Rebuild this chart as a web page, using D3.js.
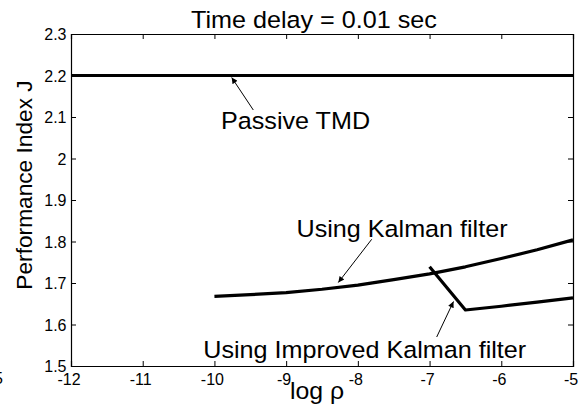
<!DOCTYPE html>
<html>
<head>
<meta charset="utf-8">
<script src="https://cdn.jsdelivr.net/npm/d3@7"></script>
<style>
  html, body { margin: 0; padding: 0; background: #fff; }
  svg text { font-family: "Liberation Sans", Arial, Helvetica, sans-serif; fill: #000; }
</style>
</head>
<body>
<svg id="chart" width="580" height="410"></svg>
<script>
// ── Data ─────────────────────────────────────────────────────────────────────
const xTicks = [-12, -11, -10, -9, -8, -7, -6, -5];
const yTicks = [1.5, 1.6, 1.7, 1.8, 1.9, 2, 2.1, 2.2, 2.3];

const passiveX = [-12, -5];
const passiveJ = [2.2, 2.2];

const kalmanX = [-10, -9.5, -9, -8.5, -8, -7.5, -7, -6.5, -6, -5.5, -5];
const kalmanJ = [1.668, 1.672, 1.677, 1.685, 1.695, 1.708, 1.722, 1.739, 1.759, 1.780, 1.804];

const improvedX = [-7, -6.5, -6, -5.5, -5];
const improvedJ = [1.739, 1.635, 1.644, 1.654, 1.664];

// ── Layout ───────────────────────────────────────────────────────────────────
const W = 580, H = 410;
const margin = { top: 34, right: 7, bottom: 44, left: 71 };
const svg = d3.select('#chart');

const x = d3.scaleLinear().domain([-12, -5]).range([margin.left, W - margin.right]);
const y = d3.scaleLinear().domain([1.5, 2.3]).range([H - margin.bottom, margin.top]);

// text in the source is a little wider than tall
function stretchText(str, px, py, size, anchor) {
  return svg.append('text')
    .attr('transform', `translate(${px},${py}) scale(1.08,1)`)
    .attr('font-size', size)
    .attr('text-anchor', anchor || 'start')
    .text(str);
}

// ── Axes (inward ticks, full box) ────────────────────────────────────────────
const fmt = d => String(d).replace('\u2212', '-');

const gx = svg.append('g')
  .attr('transform', `translate(0,${H - margin.bottom})`)
  .call(d3.axisBottom(x).tickValues(xTicks).tickSize(-5).tickFormat(fmt));
gx.selectAll('text').attr('dy', null).attr('y', 18.5).attr('x', -2.5);

svg.append('g')
  .attr('transform', `translate(0,${margin.top})`)
  .call(d3.axisTop(x).tickValues(xTicks).tickSize(-5).tickFormat(''));

const gy = svg.append('g')
  .attr('transform', `translate(${margin.left},0)`)
  .call(d3.axisLeft(y).tickValues(yTicks).tickSize(-5).tickFormat(d => d));
gy.selectAll('text').attr('x', -4.5).attr('dy', '0.36em');

svg.append('g')
  .attr('transform', `translate(${W - margin.right},0)`)
  .call(d3.axisRight(y).tickValues(yTicks).tickSize(-5).tickFormat(''));

svg.selectAll('.domain').attr('stroke', '#000').attr('stroke-width', 1.2);
svg.selectAll('.tick line').attr('stroke', '#000').attr('stroke-width', 1);
svg.selectAll('.tick text').attr('font-size', 16).attr('fill', '#000')
  .attr('font-family', '"Liberation Sans", Arial, sans-serif');

// stray fragment at the bottom-left edge
svg.append('text').attr('x', 3).attr('y', 384).attr('font-size', 16)
  .attr('text-anchor', 'end').text('5');

// ── Lines ────────────────────────────────────────────────────────────────────
const line = d3.line().x(d => x(d[0])).y(d => y(d[1]));
const series = [
  d3.zip(passiveX, passiveJ),
  d3.zip(kalmanX, kalmanJ),
  d3.zip(improvedX, improvedJ)
];
svg.append('g').selectAll('path.series')
  .data(series)
  .enter().append('path')
  .attr('class', 'series')
  .attr('d', line)
  .attr('fill', 'none')
  .attr('stroke', '#000')
  .attr('stroke-width', 3.2)
  .attr('stroke-linejoin', 'round');

// ── Annotations ──────────────────────────────────────────────────────────────
svg.append('defs').append('marker')
  .attr('id', 'head')
  .attr('viewBox', '0 0 10 10')
  .attr('refX', 10).attr('refY', 5)
  .attr('markerWidth', 9).attr('markerHeight', 6)
  .attr('markerUnits', 'userSpaceOnUse')
  .attr('orient', 'auto')
  .append('path').attr('d', 'M0,0L10,5L0,10z').attr('fill', '#000');

const arrows = [
  [[253.3, 110], [231.7, 77.5]],
  [[371.7, 239.3], [338.3, 282.5]],
  [[436.7, 337], [453.5, 301.5]]
];
svg.append('g').selectAll('line.arrow')
  .data(arrows)
  .enter().append('line')
  .attr('class', 'arrow')
  .attr('x1', d => d[0][0]).attr('y1', d => d[0][1])
  .attr('x2', d => d[1][0]).attr('y2', d => d[1][1])
  .attr('stroke', '#000').attr('stroke-width', 1)
  .attr('marker-end', 'url(#head)');

stretchText('Passive TMD', 221, 128.5, 23.3);
stretchText('Using Kalman filter', 296.5, 236.7, 23.3);
stretchText('Using Improved Kalman filter', 203.3, 358.3, 23.3);

// ── Titles ───────────────────────────────────────────────────────────────────
stretchText('Time delay = 0.01 sec', 191, 28.3, 23.3);
stretchText('log \u03C1', 290, 399, 23);

svg.append('text')
  .attr('transform', 'translate(31.5,185) rotate(-90)')
  .attr('text-anchor', 'middle')
  .attr('font-size', 22.7)
  .text('Performance Index J');
</script>
</body>
</html>
